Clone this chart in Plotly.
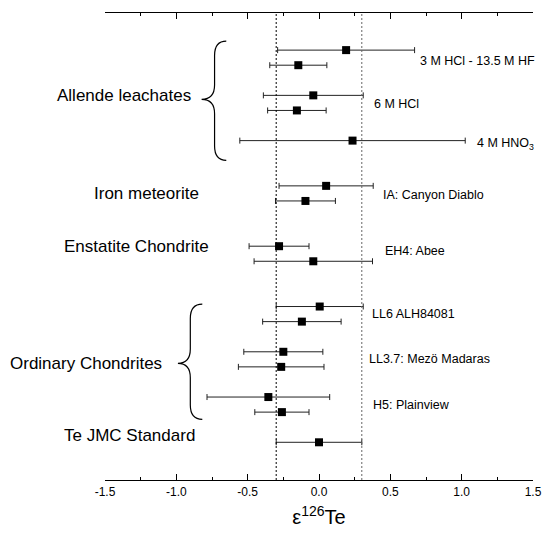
import plotly.graph_objects as go

# --- data -------------------------------------------------------------
row_pos = [26, 25, 23, 22, 20, 17, 16, 13, 12, 9, 8, 6, 5, 3, 2, 0]
eps126 = [0.19, -0.145, -0.04, -0.155, 0.235, 0.05, -0.095, -0.28, -0.04,
          0.005, -0.12, -0.25, -0.265, -0.355, -0.26, 0.0]
err126 = [0.48, 0.20, 0.35, 0.205, 0.79, 0.33, 0.21, 0.21, 0.415,
          0.305, 0.275, 0.277, 0.30, 0.43, 0.19, 0.30]

group_labels = ["Allende leachates", "Iron meteorite", "Enstatite Chondrite",
                "Ordinary Chondrites", "Te JMC Standard"]
sample_labels = ["3 M HCl - 13.5 M HF", "6 M HCl", "4 M HNO<sub>3</sub>",
                 "IA: Canyon Diablo", "EH4: Abee", "LL6 ALH84081",
                 "LL3.7: Mezö Madaras", "H5: Plainview"]
ref_lines = [-0.3, 0.3]
tick_vals = [-1.5, -1.0, -0.5, 0.0, 0.5, 1.0, 1.5]
tick_text = ["-1.5", "-1.0", "-0.5", "0.0", "0.5", "1.0", "1.5"]

# --- layout positions (decoration) -------------------------------------
group_pos = [(-0.886, 23.0), (-0.830, 16.5), (-0.760, 12.95), (-1.083, 5.2), (-0.858, 0.45)]
sample_pos = [(0.693, 25.25), (0.372, 22.45), (1.095, 19.8), (0.433, 16.4),
              (0.452, 12.7), (0.36, 8.5), (0.337, 5.55), (0.363, 2.45)]

FONT = "Liberation Sans, Arial, sans-serif"

fig = go.Figure()
fig.add_trace(go.Scatter(
    x=eps126, y=row_pos, mode="markers",
    marker=dict(symbol="square", size=8, color="black"),
    error_x=dict(type="data", array=err126, visible=True, color="#222222",
                 thickness=1, width=3),
    showlegend=False, hoverinfo="x",
))

shapes = []
for xv, col in zip(ref_lines, ["black", "#666666"]):
    shapes.append(dict(type="line", xref="x", yref="paper", x0=xv, x1=xv, y0=0, y1=1,
                       line=dict(color=col, width=1, dash="2px,2px")))


def brace(x_tip, x_spine, x_mid, y_top, y_mid, y_bot, r):
    return (f"M{x_tip},{y_top} Q{x_spine},{y_top} {x_spine},{y_top - r} "
            f"L{x_spine},{y_mid + r} Q{x_spine},{y_mid} {x_mid},{y_mid} "
            f"Q{x_spine},{y_mid} {x_spine},{y_mid - r} "
            f"L{x_spine},{y_bot + r} Q{x_spine},{y_bot} {x_tip},{y_bot}")


for b in [(-0.650, -0.732, -0.823, 26.6, 22.73, 18.69, 0.95),
          (-0.818, -0.902, -0.989, 9.16, 5.23, 1.52, 0.95)]:
    shapes.append(dict(type="path", xref="x", yref="y", path=brace(*b),
                       line=dict(color="black", width=1.2), layer="above"))

annotations = []
for txt, (xp, yp) in zip(group_labels, group_pos):
    annotations.append(dict(text=txt, x=xp, y=yp, xref="x", yref="y", xanchor="right",
                            yanchor="middle", showarrow=False,
                            font=dict(family=FONT, size=17, color="black")))
for txt, (xp, yp) in zip(sample_labels, sample_pos):
    annotations.append(dict(text=txt, x=xp, y=yp, xref="x", yref="y", xanchor="left",
                            yanchor="middle", showarrow=False,
                            font=dict(family=FONT, size=12.5, color="black")))

fig.update_layout(
    width=542, height=533,
    margin=dict(l=105, r=9, t=13, b=53, autoexpand=False),
    paper_bgcolor="white", plot_bgcolor="white",
    font=dict(family=FONT, color="black"),
    shapes=shapes, annotations=annotations,
    xaxis=dict(range=[-1.5, 1.5], showgrid=False, zeroline=False, automargin=False,
               showline=True, linecolor="black", linewidth=1.3, mirror="ticks",
               ticks="inside", ticklen=6, tickcolor="black", tickwidth=1.2,
               tickvals=tick_vals, ticktext=tick_text,
               tickfont=dict(family=FONT, size=12, color="black"),
               minor=dict(ticks="inside", ticklen=3, dtick=0.25, tickcolor="black",
                          tickwidth=1.2, showgrid=False),
               title=dict(text="ε<sup>126</sup>Te", standoff=12,
                          font=dict(family=FONT, size=20, color="black"))),
    yaxis=dict(range=[-2.5, 28.46], visible=False, showgrid=False, zeroline=False,
               automargin=False),
)

fig.write_html("out.html", config={"displayModeBar": False},
               post_script="document.body.style.margin='0';document.body.style.overflow='hidden';")
